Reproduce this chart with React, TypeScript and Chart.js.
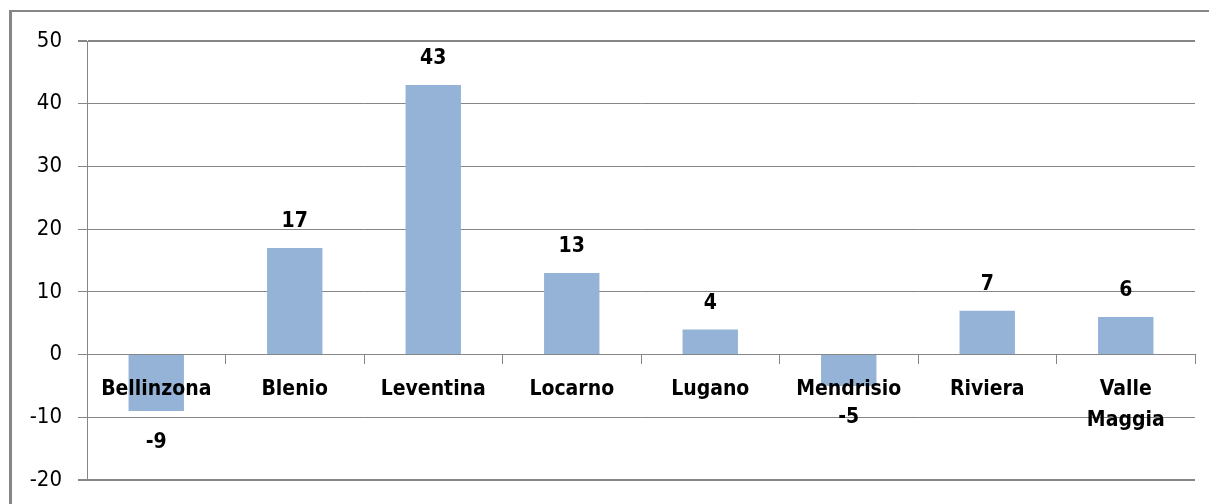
import React, { useEffect, useRef } from "react";
import { Chart, registerables } from "chart.js";

Chart.register(...registerables);

const categories: (string | string[])[] = [
  "Bellinzona",
  "Blenio",
  "Leventina",
  "Locarno",
  "Lugano",
  "Mendrisio",
  "Riviera",
  ["Valle", "Maggia"],
];
const values: number[] = [-9, 17, 43, 13, 4, -5, 7, 6];
const yMin = -20;
const yMax = 50;
const yStep = 10;

const FONT_FAMILY = "'DejaVu Sans Condensed', 'DejaVu Sans', sans-serif";
const GRID = "#868686";

const framePlugin = {
  id: "frame",
  beforeDraw(chart: any) {
    const { ctx, width, height } = chart;
    ctx.save();
    ctx.fillStyle = GRID;
    ctx.fillRect(9, 10, 3, height + 10);
    ctx.fillRect(9, 10, width + 10, 2);
    ctx.restore();
  },
};

const dataLabelPlugin = {
  id: "dataLabels",
  afterDraw(chart: any) {
    const ctx = chart.ctx;
    const meta = chart.getDatasetMeta(0);
    ctx.save();
    ctx.font = `bold 21px ${FONT_FAMILY}`;
    ctx.fillStyle = "#000";
    ctx.textAlign = "center";
    ctx.textBaseline = "middle";
    meta.data.forEach((bar: any, i: number) => {
      const v = values[i];
      const y = v >= 0 ? bar.y - 26 : bar.y + 32;
      ctx.fillText(String(v), bar.x, y);
    });
    ctx.restore();
  },
};

export default function App() {
  const ref = useRef<HTMLCanvasElement | null>(null);
  useEffect(() => {
    if (!ref.current) return;
    const chart = new Chart(ref.current, {
      type: "bar",
      data: {
        labels: categories,
        datasets: [
          {
            data: values,
            backgroundColor: "#95B3D7",
            borderWidth: 0,
            barPercentage: 0.4,
            categoryPercentage: 1,
          },
        ],
      },
      options: {
        animation: false,
        responsive: false,
        maintainAspectRatio: false,
        layout: { padding: { left: 0, top: 41, right: 14, bottom: 24 } },
        plugins: {
          legend: { display: false },
          tooltip: { enabled: false },
        },
        scales: {
          x: {
            position: { y: 0 } as any,
            offset: true,
            afterFit: (scale: any) => {
              scale.height = 0;
            },
            grid: {
              display: true,
              drawOnChartArea: false,
              drawTicks: true,
              tickLength: 9,
              color: GRID,
              offset: true,
              z: 1,
            },
            border: { display: true, color: GRID, width: 1, z: 1 },
            ticks: {
              z: 2,
              color: "#000",
              padding: 10,
              maxRotation: 0,
              autoSkip: false,
              font: { family: FONT_FAMILY, size: 21, weight: "bold", lineHeight: 1.48 },
            },
          },
          y: {
            min: yMin,
            max: yMax,
            afterFit: (scale: any) => {
              scale.width = 87;
              scale.paddingTop = 0;
              scale.paddingBottom = 0;
            },
            grid: {
              color: GRID,
              tickLength: 9,
              lineWidth: (c: any) =>
                c.tick && (c.tick.value === yMin || c.tick.value === yMax) ? 2 : 1,
            },
            border: { display: true, color: GRID, width: 1 },
            ticks: {
              stepSize: yStep,
              color: "#000",
              padding: 16,
              font: { family: FONT_FAMILY, size: 22 },
            },
          },
        },
      },
      plugins: [framePlugin, dataLabelPlugin],
    });
    return () => chart.destroy();
  }, []);
  return (
    <div style={{ position: "fixed", left: 0, top: 0, width: 1209, height: 504, background: "#fff" }}>
      <canvas ref={ref} width={1209} height={504} style={{ display: "block" }} />
    </div>
  );
}
